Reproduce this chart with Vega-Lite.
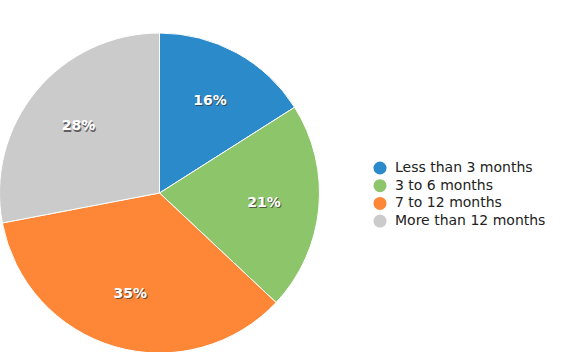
{
  "$schema": "https://vega.github.io/schema/vega-lite/v6.json",
  "autosize": "none",
  "width": 319,
  "height": 320,
  "padding": {"left": 0, "top": 33, "right": 249, "bottom": 0},
  "background": "white",
  "config": {"view": {"stroke": null}, "font": "DejaVu Sans"},
  "data": {
    "values": [
      {"category": "Less than 3 months", "value": 16, "label": "16%", "order": 1},
      {"category": "3 to 6 months", "value": 21, "label": "21%", "order": 2},
      {"category": "7 to 12 months", "value": 35, "label": "35%", "order": 3},
      {"category": "More than 12 months", "value": 28, "label": "28%", "order": 4}
    ]
  },
  "encoding": {
    "theta": {"field": "value", "type": "quantitative", "stack": true},
    "order": {"field": "order", "type": "quantitative"}
  },
  "layer": [
    {
      "mark": {"type": "arc", "outerRadius": 160, "stroke": "white", "strokeWidth": 1},
      "encoding": {
        "color": {
          "field": "category",
          "type": "nominal",
          "sort": ["Less than 3 months", "3 to 6 months", "7 to 12 months", "More than 12 months"],
          "scale": {
            "domain": ["Less than 3 months", "3 to 6 months", "7 to 12 months", "More than 12 months"],
            "range": ["#2b8ac9", "#8dc56b", "#fd8736", "#cbcbcb"]
          },
          "legend": {
            "title": null,
            "orient": "none",
            "legendX": 373,
            "legendY": 128,
            "symbolType": "circle",
            "symbolSize": 170,
            "symbolStrokeWidth": 0,
            "labelFontSize": 14,
            "labelColor": "#222",
            "labelFont": "DejaVu Sans",
            "rowPadding": 3.7,
            "labelOffset": 8
          }
        }
      }
    },
    {
      "mark": {"type": "text", "radius": 105, "dx": 1, "dy": 1.5, "fontSize": 14, "fontWeight": "bold", "color": "#333", "opacity": 0.7},
      "encoding": {"text": {"field": "label"}}
    },
    {
      "mark": {"type": "text", "radius": 105, "fontSize": 14, "fontWeight": "bold", "color": "white"},
      "encoding": {"text": {"field": "label"}}
    }
  ]
}
